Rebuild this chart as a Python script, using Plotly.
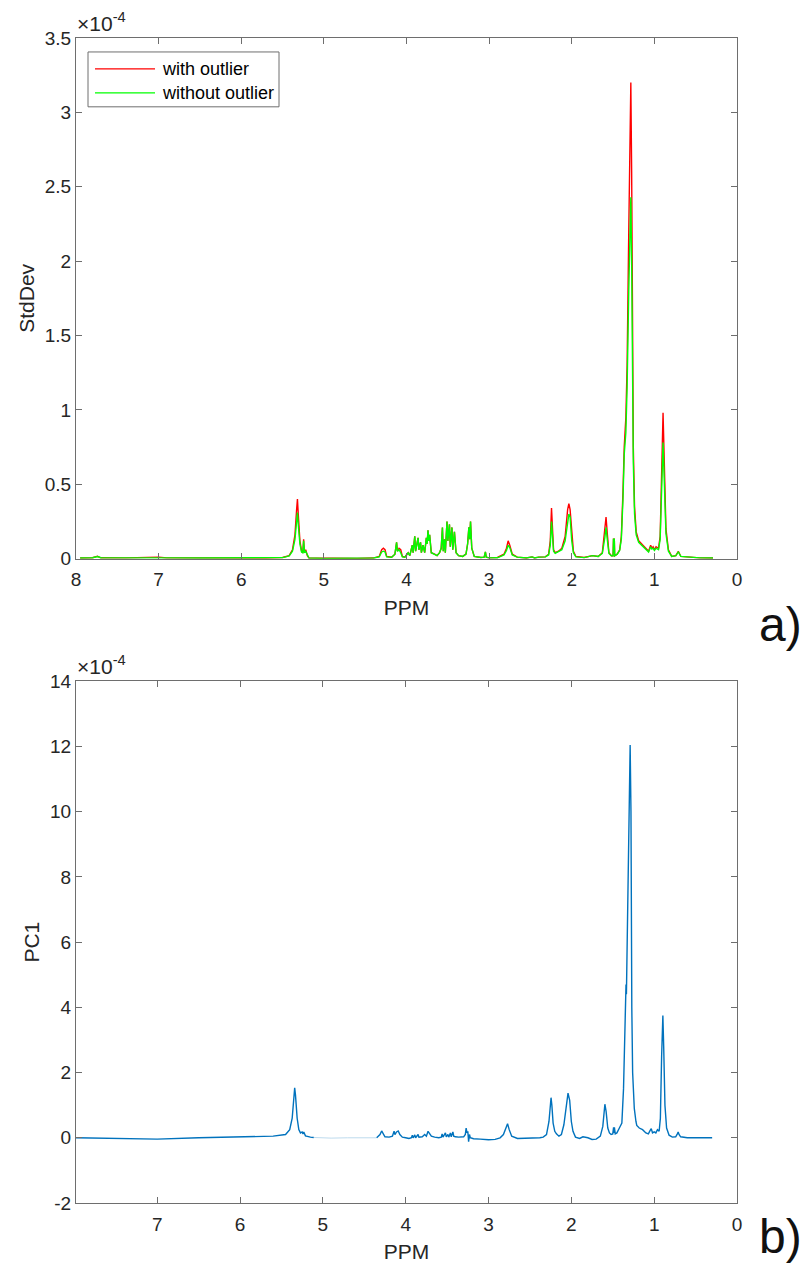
import plotly.graph_objects as go

# ---------------- data (values in units of 1e-4) ----------------
ppm_top = [7.95, 7.80, 7.74, 7.70, 7.40, 7.10, 7.00, 6.90, 6.50, 6.00, 5.70, 5.50,
           5.42, 5.38, 5.35, 5.33, 5.32, 5.31, 5.29, 5.27, 5.255, 5.245, 5.235, 5.22,
           5.20, 5.18, 5.00, 4.60, 4.40, 4.33, 4.30, 4.28, 4.26, 4.24, 4.18, 4.14,
           4.12, 4.11, 4.09, 4.07, 4.05, 4.02, 3.98, 3.96, 3.93, 3.92, 3.90, 3.89,
           3.86, 3.85, 3.83, 3.82, 3.80, 3.78, 3.76, 3.75, 3.74, 3.73, 3.72, 3.70,
           3.66, 3.63, 3.60, 3.58, 3.565, 3.555, 3.54, 3.53, 3.51, 3.50, 3.48, 3.47,
           3.45, 3.44, 3.42, 3.40, 3.37, 3.32, 3.28, 3.26, 3.245, 3.235, 3.225, 3.21,
           3.18, 3.10, 3.06, 3.045, 3.035, 3.00, 2.90, 2.82, 2.79, 2.77, 2.75, 2.72,
           2.66, 2.55, 2.48, 2.45, 2.40, 2.32, 2.28, 2.26, 2.245, 2.235, 2.22, 2.20,
           2.16, 2.12, 2.08, 2.05, 2.035, 2.02, 2.00, 1.98, 1.95, 1.85, 1.75, 1.68,
           1.63, 1.60, 1.585, 1.57, 1.55, 1.52, 1.50, 1.495, 1.485, 1.48, 1.45, 1.42,
           1.40, 1.38, 1.365, 1.345, 1.33, 1.31, 1.295, 1.285, 1.275, 1.265, 1.255, 1.24,
           1.22, 1.19, 1.12, 1.07, 1.045, 1.03, 1.015, 1.00, 0.98, 0.95, 0.93, 0.91,
           0.895, 0.88, 0.86, 0.83, 0.79, 0.74, 0.71, 0.68, 0.60, 0.45, 0.29]

std_with = [0.004, 0.006, 0.016, 0.006, 0.005, 0.006, 0.010, 0.005, 0.004, 0.003, 0.004, 0.008,
            0.02, 0.06, 0.16, 0.33, 0.40, 0.30, 0.12, 0.05, 0.04, 0.13, 0.04, 0.06,
            0.02, 0.004, 0.002, 0.002, 0.004, 0.015, 0.06, 0.07, 0.06, 0.015, 0.01, 0.03,
            0.11, 0.05, 0.07, 0.06, 0.015, 0.01, 0.04, 0.02, 0.09, 0.04, 0.15, 0.05,
            0.14, 0.06, 0.11, 0.04, 0.09, 0.04, 0.14, 0.10, 0.19, 0.12, 0.16, 0.04,
            0.03, 0.02, 0.04, 0.07, 0.21, 0.05, 0.13, 0.04, 0.25, 0.12, 0.23, 0.08,
            0.21, 0.06, 0.18, 0.04, 0.02, 0.015, 0.03, 0.10, 0.21, 0.13, 0.25, 0.07,
            0.015, 0.008, 0.01, 0.045, 0.01, 0.005, 0.008, 0.03, 0.07, 0.12, 0.09, 0.03,
            0.01, 0.005, 0.012, 0.005, 0.01, 0.012, 0.03, 0.12, 0.34, 0.20, 0.06, 0.04,
            0.05, 0.07, 0.15, 0.33, 0.37, 0.33, 0.15, 0.05, 0.015, 0.008, 0.02, 0.015,
            0.04, 0.18, 0.28, 0.17, 0.04, 0.02, 0.02, 0.13, 0.13, 0.02, 0.03, 0.06,
            0.15, 0.45, 0.75, 0.95, 1.3, 2.2, 2.9, 3.2, 2.6, 1.5, 0.75, 0.35,
            0.18, 0.12, 0.08, 0.05, 0.09, 0.07, 0.08, 0.06, 0.08, 0.07, 0.15, 0.55,
            0.98, 0.65, 0.2, 0.06, 0.015, 0.02, 0.05, 0.015, 0.01, 0.005, 0.004]

std_without = [0.004, 0.006, 0.014, 0.006, 0.005, 0.006, 0.009, 0.005, 0.004, 0.003, 0.004, 0.007,
               0.018, 0.05, 0.13, 0.26, 0.31, 0.23, 0.10, 0.045, 0.04, 0.12, 0.04, 0.05,
               0.02, 0.004, 0.002, 0.002, 0.004, 0.012, 0.045, 0.05, 0.045, 0.012, 0.01, 0.03,
               0.11, 0.05, 0.06, 0.04, 0.012, 0.01, 0.04, 0.02, 0.09, 0.04, 0.15, 0.05,
               0.14, 0.06, 0.11, 0.04, 0.09, 0.04, 0.14, 0.10, 0.19, 0.12, 0.16, 0.04,
               0.03, 0.02, 0.04, 0.07, 0.21, 0.05, 0.13, 0.04, 0.25, 0.12, 0.23, 0.08,
               0.21, 0.06, 0.18, 0.04, 0.02, 0.015, 0.03, 0.10, 0.21, 0.13, 0.25, 0.07,
               0.015, 0.008, 0.01, 0.045, 0.01, 0.005, 0.006, 0.025, 0.055, 0.09, 0.075, 0.025,
               0.01, 0.005, 0.012, 0.005, 0.01, 0.012, 0.025, 0.09, 0.25, 0.15, 0.05, 0.035,
               0.045, 0.06, 0.12, 0.27, 0.30, 0.28, 0.12, 0.04, 0.012, 0.007, 0.02, 0.015,
               0.035, 0.14, 0.21, 0.13, 0.035, 0.02, 0.02, 0.13, 0.13, 0.02, 0.03, 0.055,
               0.13, 0.40, 0.70, 0.85, 1.15, 1.8, 2.25, 2.43, 2.0, 1.2, 0.65, 0.3,
               0.16, 0.11, 0.07, 0.045, 0.08, 0.065, 0.07, 0.055, 0.07, 0.06, 0.13, 0.45,
               0.78, 0.52, 0.17, 0.05, 0.015, 0.02, 0.045, 0.015, 0.01, 0.005, 0.004]

ppm_pc1 = [7.98, 7.50, 7.00, 6.50, 6.00, 5.60, 5.45, 5.40, 5.37, 5.35, 5.34, 5.33,
           5.31, 5.29, 5.27, 5.25, 5.24, 5.23, 5.21, 5.15, 5.11, None,
           4.35, 4.31, 4.29, 4.27, 4.25, 4.20, 4.16, 4.14, 4.13, 4.11, 4.09, 4.07,
           4.04, 4.00, 3.96, 3.93, 3.92, 3.91, 3.89, 3.88, 3.85, 3.84, 3.80, 3.77,
           3.75, 3.73, 3.71, 3.69, 3.65, 3.60, 3.57, 3.56, 3.55, 3.52, 3.51, 3.49,
           3.48, 3.46, 3.45, 3.43, 3.42, 3.40, 3.36, 3.30, 3.28, 3.27, 3.26, 3.25,
           3.24, 3.23, 3.22, 3.18, 3.10, 3.00, 2.92, 2.86, 2.82, 2.79, 2.77, 2.75,
           2.72, 2.65, 2.50, 2.38, 2.34, 2.30, 2.27, 2.255, 2.245, 2.235, 2.22, 2.20,
           2.18, 2.15, 2.12, 2.09, 2.06, 2.04, 2.02, 2.00, 1.98, 1.95, 1.90, 1.86,
           1.80, 1.75, 1.70, 1.65, 1.62, 1.605, 1.595, 1.58, 1.56, 1.54, 1.52, 1.50,
           1.49, 1.485, 1.48, 1.47, 1.45, 1.42, 1.39, 1.37, 1.355, 1.345, 1.34, 1.335,
           1.32, 1.30, 1.29, 1.28, 1.275, 1.27, 1.26, 1.24, 1.22, 1.21, 1.18, 1.14,
           1.10, 1.07, 1.05, 1.035, 1.02, 1.00, 0.98, 0.96, 0.94, 0.925, 0.91, 0.895,
           0.885, 0.87, 0.85, 0.82, 0.78, 0.74, 0.72, 0.71, 0.70, 0.68, 0.60, 0.45, 0.30]

pc1 = [0.0, -0.02, -0.04, 0.0, 0.02, 0.05, 0.1, 0.25, 0.6, 1.2, 1.53, 1.3,
       0.6, 0.25, 0.15, 0.18, 0.12, 0.18, 0.06, 0.02, 0.01, None,
       0.0, 0.1, 0.21, 0.1, 0.03, 0.02, 0.05, 0.2, 0.1, 0.18, 0.21, 0.1,
       0.02, 0.0, -0.02, 0.0, 0.08, 0.0, 0.09, 0.0, 0.1, 0.02, 0.03, 0.1,
       0.05, 0.2, 0.1, 0.05, 0.02, 0.0, 0.02, 0.12, 0.02, 0.15, 0.03, 0.1,
       0.02, 0.15, 0.03, 0.18, 0.05, 0.03, 0.02, 0.03, 0.1, 0.3, 0.15, 0.2,
       -0.12, 0.1, 0.0, -0.03, -0.04, -0.06, -0.05, 0.0, 0.1, 0.28, 0.43, 0.25,
       0.05, -0.02, -0.02, 0.0, 0.02, 0.1, 0.5, 1.05, 1.23, 1.0, 0.45, 0.2,
       0.12, 0.05, 0.1, 0.4, 1.1, 1.37, 1.15, 0.5, 0.2, 0.02, -0.02, 0.03,
       0.0, -0.05, -0.04, 0.05, 0.35, 0.85, 1.03, 0.8, 0.3, 0.15, 0.1, 0.12,
       0.32, 0.15, 0.32, 0.12, 0.15, 0.3, 0.45, 1.5, 3.2, 4.3, 4.7, 4.4,
       7.0, 10.5, 12.05, 10.0, 6.0, 4.0, 2.0, 0.9, 0.5, 0.38, 0.3, 0.25,
       0.15, 0.12, 0.22, 0.28, 0.15, 0.18, 0.15, 0.25, 0.2, 0.6, 2.5, 3.75,
       2.8, 1.0, 0.3, 0.08, 0.02, 0.03, 0.12, 0.18, 0.1, 0.03, 0.0, 0.0, 0.0]

# excluded (water) region, drawn faintly
ppm_gap = [5.11, 4.90, 4.70, 4.50, 4.35]
pc1_gap = [0.01, -0.01, 0.0, -0.01, 0.0]

top_xticks = [0, 1, 2, 3, 4, 5, 6, 7, 8]
bot_xticks = [0, 1, 2, 3, 4, 5, 6, 7]
top_yticks = [0, 0.5, 1, 1.5, 2, 2.5, 3, 3.5]
top_yticklabels = ["0", "0.5", "1", "1.5", "2", "2.5", "3", "3.5"]
bot_yticks = [-2, 0, 2, 4, 6, 8, 10, 12, 14]
bot_yticklabels = ["-2", "0", "2", "4", "6", "8", "10", "12", "14"]

# ---------------- layout geometry (pixels) ----------------
W, H = 811, 1271
L, R, T, B = 76, 74, 38, 65
PW, PH = W - L - R, H - T - B


def px(x):
    return (x - L) / PW


def py(y):
    return (H - B - y) / PH


FONT = "Liberation Sans, Arial, Helvetica, sans-serif"
TXT = "#262626"
AX = "#6e6e6e"

fig = go.Figure()
fig.add_trace(go.Scatter(x=ppm_top, y=std_with, mode="lines", name="with outlier",
                         line=dict(color="#ff0000", width=1.4), xaxis="x", yaxis="y",
                         showlegend=False))
fig.add_trace(go.Scatter(x=ppm_top, y=std_without, mode="lines", name="without outlier",
                         line=dict(color="#00ff00", width=1.4), xaxis="x", yaxis="y",
                         showlegend=False))
fig.add_trace(go.Scatter(x=ppm_gap, y=pc1_gap, mode="lines", name="PC1 (excluded)",
                         line=dict(color="#0072bd", width=1), opacity=0.25,
                         xaxis="x2", yaxis="y2", showlegend=False))
fig.add_trace(go.Scatter(x=ppm_pc1, y=pc1, mode="lines", name="PC1",
                         line=dict(color="#0072bd", width=1.4), connectgaps=False,
                         xaxis="x2", yaxis="y2", showlegend=False))

axis_common = dict(showline=True, linecolor=AX, linewidth=1, mirror="ticks",
                   ticks="inside", ticklen=6, tickcolor=AX, tickwidth=1,
                   showgrid=False, zeroline=False,
                   tickfont=dict(family=FONT, size=19, color=TXT))

top_dom = [py(560), py(38)]
bot_dom = [py(1206), py(683)]

fig.update_layout(
    width=W, height=H,
    margin=dict(l=L, r=R, t=T, b=B),
    paper_bgcolor="white", plot_bgcolor="white",
    showlegend=False,
    xaxis=dict(range=[8, 0], tickvals=top_xticks, domain=[0, 1], anchor="y",
               ticklabelstandoff=4,
               title=dict(text="PPM", font=dict(family=FONT, size=21, color=TXT), standoff=10),
               **axis_common),
    yaxis=dict(range=[0, 3.5], tickvals=top_yticks, ticktext=top_yticklabels,
               domain=top_dom, anchor="x",
               title=dict(text="StdDev", font=dict(family=FONT, size=21, color=TXT), standoff=4),
               **axis_common),
    xaxis2=dict(range=[7.98, 0], tickvals=bot_xticks, domain=[0, 1], anchor="y2",
                ticklabelstandoff=4,
                title=dict(text="PPM", font=dict(family=FONT, size=21, color=TXT), standoff=10),
                **axis_common),
    yaxis2=dict(range=[-2, 14], tickvals=bot_yticks, ticktext=bot_yticklabels,
                domain=bot_dom, anchor="x2",
                title=dict(text="PC1", font=dict(family=FONT, size=21, color=TXT), standoff=4),
                **axis_common),
)

# exponent labels
for ytop in (38, 683):
    fig.add_annotation(xref="paper", yref="paper", x=px(75), y=py(ytop - 1),
                       xanchor="left", yanchor="bottom", showarrow=False,
                       text="×10<sup>-4</sup>",
                       font=dict(family=FONT, size=21, color=TXT))

# panel letters
fig.add_annotation(xref="paper", yref="paper", x=px(804), y=py(626), xanchor="right",
                   yanchor="middle", showarrow=False, text="a)",
                   font=dict(family=FONT, size=48, color="#111111"))
fig.add_annotation(xref="paper", yref="paper", x=px(804), y=py(1240), xanchor="right",
                   yanchor="middle", showarrow=False, text="b)",
                   font=dict(family=FONT, size=48, color="#111111"))

# legend box (drawn by hand, MATLAB style)
fig.add_shape(type="rect", xref="paper", yref="paper",
              x0=px(88), x1=px(279), y0=py(107), y1=py(52),
              line=dict(color=AX, width=1), fillcolor="white", layer="above")
legend_items = [("with outlier", "#ff0000", 69), ("without outlier", "#00ff00", 93)]
for label, col, yy in legend_items:
    fig.add_shape(type="line", xref="paper", yref="paper",
                  x0=px(95), x1=px(155), y0=py(yy), y1=py(yy),
                  line=dict(color=col, width=1.4), layer="above")
    fig.add_annotation(xref="paper", yref="paper", x=px(160), y=py(yy),
                       xanchor="left", yanchor="middle", showarrow=False, text=label,
                       font=dict(family=FONT, size=18, color="#000000"))

fig.write_html("out.html",
               config={"displayModeBar": False},
               post_script="document.body.style.margin='0';"
                           "document.body.style.overflow='hidden';")
